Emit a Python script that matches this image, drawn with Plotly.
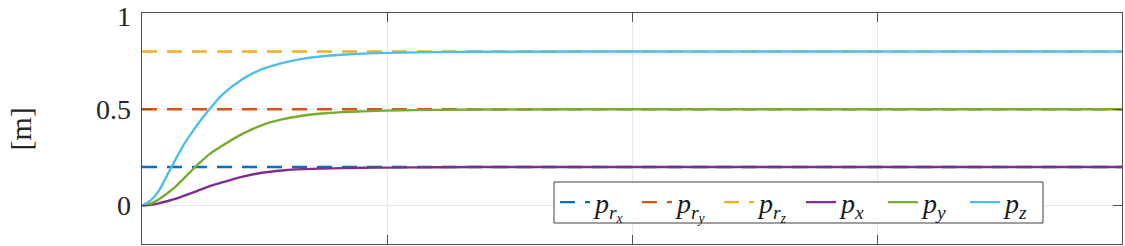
import plotly.graph_objects as go

# time samples
t = [0.0, 0.034, 0.068, 0.102, 0.136, 0.17, 0.204, 0.238, 0.272, 0.327, 0.408, 0.49,
     0.571, 0.653, 0.735, 0.816, 0.9, 1.0, 1.2, 1.5, 2.0, 3.0, 4.0]
# measured trajectories
p_x = [0.0, 0.003, 0.011, 0.022, 0.034, 0.050, 0.066, 0.082, 0.098, 0.120, 0.149, 0.170,
       0.182, 0.189, 0.192, 0.194, 0.196, 0.197, 0.199, 0.200, 0.200, 0.200, 0.200]
p_y = [0.0, 0.009, 0.031, 0.062, 0.097, 0.140, 0.183, 0.225, 0.263, 0.310, 0.371, 0.418,
       0.447, 0.466, 0.478, 0.485, 0.489, 0.493, 0.497, 0.499, 0.500, 0.500, 0.500]
p_z = [0.0, 0.025, 0.075, 0.155, 0.237, 0.315, 0.380, 0.440, 0.495, 0.575, 0.655, 0.708,
       0.740, 0.762, 0.775, 0.783, 0.789, 0.793, 0.797, 0.799, 0.800, 0.800, 0.800]
# references
t_ref = [0.0, 4.0]
p_rx = [0.2, 0.2]
p_ry = [0.5, 0.5]
p_rz = [0.8, 0.8]

# axes
y_ticks = [0, 0.5, 1]
y_ticklabels = ["0", "0.5", "1"]
x_ticks = [1, 2, 3]
y_label = "[m]"

names = ["<i>p</i><sub><i>r<sub>x</sub></i></sub>",
         "<i>p</i><sub><i>r<sub>y</sub></i></sub>",
         "<i>p</i><sub><i>r<sub>z</sub></i></sub>",
         "<i>p</i><sub><i>x</i></sub>",
         "<i>p</i><sub><i>y</i></sub>",
         "<i>p</i><sub><i>z</i></sub>"]
colors = ["#0072BD", "#D95319", "#EDB120", "#7E2F8E", "#77AC30", "#4DBEEE"]

SERIF = "Liberation Serif"
TXT = "#262626"

fig = go.Figure()
for ys, n, c in zip([p_rx, p_ry, p_rz], names[:3], colors[:3]):
    fig.add_trace(go.Scatter(x=t_ref, y=ys, mode="lines", name=n,
                             line=dict(color=c, width=2.4, dash="15px,10px")))
for ys, n, c in zip([p_x, p_y, p_z], names[3:], colors[3:]):
    fig.add_trace(go.Scatter(x=t, y=ys, mode="lines", name=n,
                             line=dict(color=c, width=2.4, shape="spline", smoothing=0.8)))

axis_common = dict(showline=True, linecolor="#505050", linewidth=1, mirror="ticks",
                   ticks="inside", ticklen=9, tickcolor="#505050",
                   showgrid=True, gridcolor="#e8e8e8", gridwidth=1, zeroline=False)

# tick labels as annotations (so the top one is not hidden)
for v, lab in zip(y_ticks, y_ticklabels):
    fig.add_annotation(x=0, xref="paper", y=v, yref="y", text=lab, showarrow=False,
                       xanchor="right", yanchor="middle", xshift=-9,
                       yshift=(-3 if v == max(y_ticks) else 0),
                       font=dict(family=SERIF, size=28, color=TXT))
fig.add_annotation(x=-0.1235, xref="paper", y=0.5, yref="paper", text=y_label,
                   showarrow=False, textangle=-90, xanchor="center", yanchor="middle",
                   font=dict(family=SERIF, size=30, color=TXT))

# legend frame
fig.add_shape(type="rect", xref="paper", yref="paper",
              x0=0.4204, x1=0.9194, y0=0.0909, y1=0.2684,
              fillcolor="white", line=dict(color="#404040", width=1), layer="above")

fig.update_layout(
    width=1125, height=246,
    margin=dict(l=142, r=3, t=13, b=2),
    paper_bgcolor="white", plot_bgcolor="white",
    font=dict(family=SERIF, size=28, color=TXT),
    showlegend=True,
    legend=dict(orientation="h", x=0.4214, y=0.18, xanchor="left", yanchor="middle",
                borderwidth=0, bgcolor="rgba(0,0,0,0)",
                font=dict(size=28, family=SERIF, color="#1a1a1a"),
                entrywidth=37, entrywidthmode="pixels", itemwidth=30),
    xaxis=dict(range=[0, 4], tickvals=x_ticks, showticklabels=False, **axis_common),
    yaxis=dict(range=[-0.2, 1], tickvals=y_ticks, showticklabels=False, **axis_common),
)

fig.write_html("out.html")
